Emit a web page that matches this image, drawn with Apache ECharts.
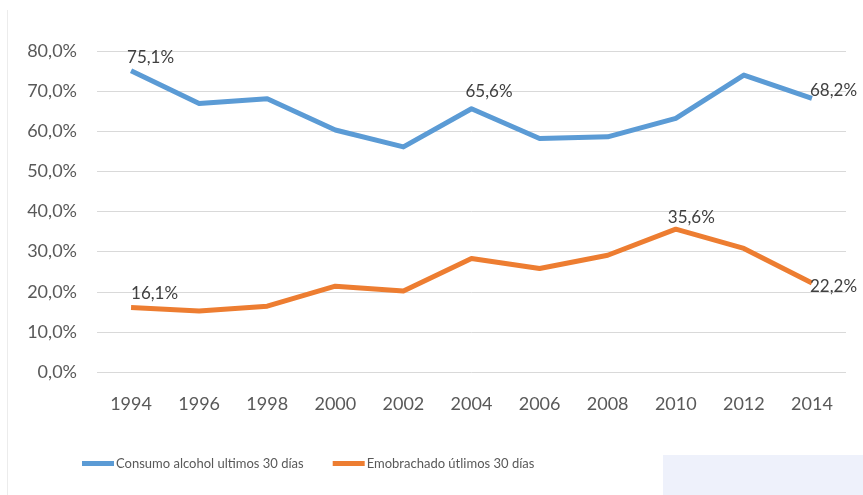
<!DOCTYPE html>
<html>
<head>
<meta charset="utf-8">
<script src="https://cdn.jsdelivr.net/npm/echarts@6/dist/echarts.min.js"></script>
<style>
  html, body { margin: 0; padding: 0; background: #fff; }
  #chart { width: 863px; height: 495px; }
</style>
</head>
<body>
<div id="chart"></div>
<script>
const years = ['1994', '1996', '1998', '2000', '2002', '2004', '2006', '2008', '2010', '2012', '2014']
const consumo = [75.1, 66.9, 68.1, 60.3, 56.1, 65.6, 58.2, 58.6, 63.2, 74.0, 68.2]
const emborrachado = [16.1, 15.2, 16.4, 21.4, 20.2, 28.3, 25.8, 29.1, 35.6, 30.8, 22.2]
const yTicks = [0, 10, 20, 30, 40, 50, 60, 70, 80]
const consumoLabelIdx = [0, 5, 10]
const emborrachadoLabelIdx = [0, 8, 10]

const fmt = v => v.toFixed(1).replace('.', ',') + '%'
const labelFont = { fontFamily: 'Lato', fontSize: 17, color: '#404040' }

// where each shown label sits relative to its point
const labelPos = {
  consumo: {
    0: { position: 'top', align: 'left', distance: 5, offset: [-4, 0] },
    5: { position: 'top', align: 'left', distance: 9, offset: [-6, 0] },
    10: { position: 'right', distance: 0, offset: [-2, -8] }
  },
  emborrachado: {
    0: { position: 'top', align: 'left', distance: 5, offset: [0, 0] },
    8: { position: 'top', align: 'left', distance: 3, offset: [-8, 0] },
    10: { position: 'right', distance: 0, offset: [-2, 4] }
  }
}

const buildData = (values, idx, key) => values.map((v, i) => {
  if (!idx.includes(i)) return v
  return {
    value: v,
    label: Object.assign({ show: true, formatter: p => fmt(p.value) }, labelFont, labelPos[key][i])
  }
})

const chart = echarts.init(document.getElementById('chart'))

const option = {
  backgroundColor: '#fff',
  animation: false,
  grid: { left: 97, right: 17, top: 51, bottom: 123, containLabel: false },
  legend: {
    left: 77,
    top: 452,
    icon: 'rect',
    itemWidth: 32,
    itemHeight: 5,
    itemGap: 29,
    textStyle: { fontFamily: 'Lato', fontSize: 13, color: '#595959', padding: [0, 0, 0, -3] },
    data: ['Consumo alcohol ultimos 30 días', 'Emobrachado útlimos 30 días']
  },
  xAxis: {
    type: 'category',
    data: years,
    boundaryGap: true,
    axisLine: { show: false },
    axisTick: { show: false },
    axisLabel: { margin: 23, fontFamily: 'Lato', fontSize: 18, color: '#595959' }
  },
  yAxis: {
    type: 'value',
    min: yTicks[0],
    max: yTicks[yTicks.length - 1],
    interval: 10,
    axisLine: { show: false },
    axisTick: { show: false },
    axisLabel: { margin: 20, fontFamily: 'Lato', fontSize: 18, color: '#595959', formatter: v => fmt(v) },
    splitLine: { lineStyle: { color: '#d9d9d9', width: 1 } }
  },
  graphic: [
    { type: 'rect', shape: { x: 663, y: 455, width: 200, height: 40 }, style: { fill: '#eef1fb' }, silent: true, z: -1 },
    { type: 'line', shape: { x1: 7.5, y1: 10, x2: 7.5, y2: 495 }, style: { stroke: '#ececec', lineWidth: 1 }, silent: true, z: -1 }
  ],
  series: [
    {
      name: 'Consumo alcohol ultimos 30 días',
      type: 'line',
      data: buildData(consumo, consumoLabelIdx, 'consumo'),
      symbol: 'circle',
      symbolSize: 0,
      showSymbol: true,
      lineStyle: { color: '#5b9bd5', width: 5, join: 'round' },
      itemStyle: { color: '#5b9bd5' }
    },
    {
      name: 'Emobrachado útlimos 30 días',
      type: 'line',
      data: buildData(emborrachado, emborrachadoLabelIdx, 'emborrachado'),
      symbol: 'circle',
      symbolSize: 0,
      showSymbol: true,
      lineStyle: { color: '#ed7d31', width: 5, join: 'round' },
      itemStyle: { color: '#ed7d31' }
    }
  ]
}

chart.setOption(option)
</script>
</body>
</html>
